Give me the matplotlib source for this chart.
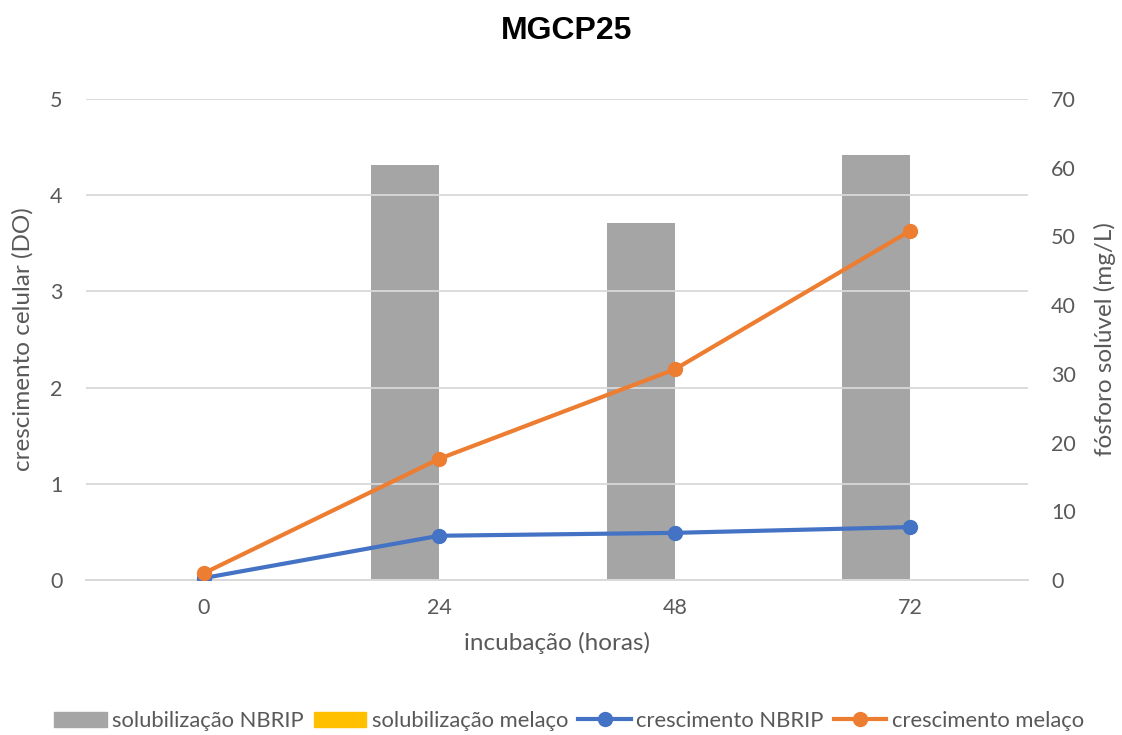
import matplotlib
matplotlib.use("Agg")
import matplotlib.pyplot as plt
from matplotlib.patches import Patch
from matplotlib.lines import Line2D
import numpy as np

categories = ["0", "24", "48", "72"]
solub_nbrip = [0.0, 60.4, 52.0, 61.9]
solub_melaco = [0.0, 0.0, 0.0, 0.0]
cresc_nbrip = [0.02, 0.46, 0.49, 0.55]
cresc_melaco = [0.07, 1.26, 2.19, 3.63]

plt.rcParams['font.family'] = ['Lato', 'DejaVu Sans']

fig = plt.figure(figsize=(11.22, 7.35), dpi=100)
ax = fig.add_axes([86/1122, 1-580/735, (1028-86)/1122, (580-99)/735])
ax2 = ax.twinx()

x = np.arange(len(categories))
w = 0.289
gray = "#a5a5a5"; yellow = "#ffc000"; blue = "#4472c4"; orange = "#ed7d31"
tc = "#595959"; gc = "#d9d9d9"

ax2.bar(x - w/2, solub_nbrip, width=w, color=gray, zorder=2)
ax2.bar(x + w/2, solub_melaco, width=w, color=yellow, zorder=2)

ax.plot(x, cresc_nbrip, color=blue, lw=3, marker='o', ms=10, zorder=3)
ax.plot(x, cresc_melaco, color=orange, lw=3, marker='o', ms=10, zorder=4)

ax.set_zorder(ax2.get_zorder() + 1)
ax.patch.set_visible(False)

ax.set_xlim(-0.5, 3.5)
ax.set_ylim(0, 5)
ax2.set_ylim(0, 70)
ax.set_yticks(range(0, 6))
ax2.set_yticks(range(0, 71, 10))
ax.set_xticks(x)
ax.set_xticklabels(categories)

ax.yaxis.grid(True, color=gc, lw=1.3)
ax.set_axisbelow(True)
ax2.yaxis.grid(False)
for a in (ax, ax2):
    for s in ['top', 'left', 'right']:
        a.spines[s].set_visible(False)
    a.spines['bottom'].set_color(gc)
    a.spines['bottom'].set_linewidth(1.3)
    a.tick_params(length=0, labelsize=15.5, labelcolor=tc)
ax.tick_params(axis='y', pad=17)
ax2.tick_params(axis='y', pad=16.5)
ax.tick_params(axis='x', pad=13)

ax.set_ylabel("crescimento celular (DO)", fontsize=17.5, color=tc, labelpad=12)
ax2.set_ylabel("fósforo solúvel (mg/L)", fontsize=17.5, color=tc, labelpad=13)
ax.set_xlabel("incubação (horas)", fontsize=17.5, color=tc, labelpad=10)

fig.suptitle("MGCP25", x=567/1122, fontsize=23, fontweight='bold', fontfamily='Liberation Sans', y=0.978)

handles = [
    Patch(color=gray, label="solubilização NBRIP"),
    Patch(color=yellow, label="solubilização melaço"),
    Line2D([], [], color=blue, lw=3, marker='o', ms=10, label="crescimento NBRIP"),
    Line2D([], [], color=orange, lw=3, marker='o', ms=10, label="crescimento melaço"),
]
fig.legend(handles=handles, loc='center', bbox_to_anchor=(569/1122, 1-721/735), ncol=4,
           frameon=False, fontsize=15.8, labelcolor=tc, handlelength=2.4,
           handletextpad=0.25, columnspacing=0.45)

fig.savefig("out.png", dpi=100)
